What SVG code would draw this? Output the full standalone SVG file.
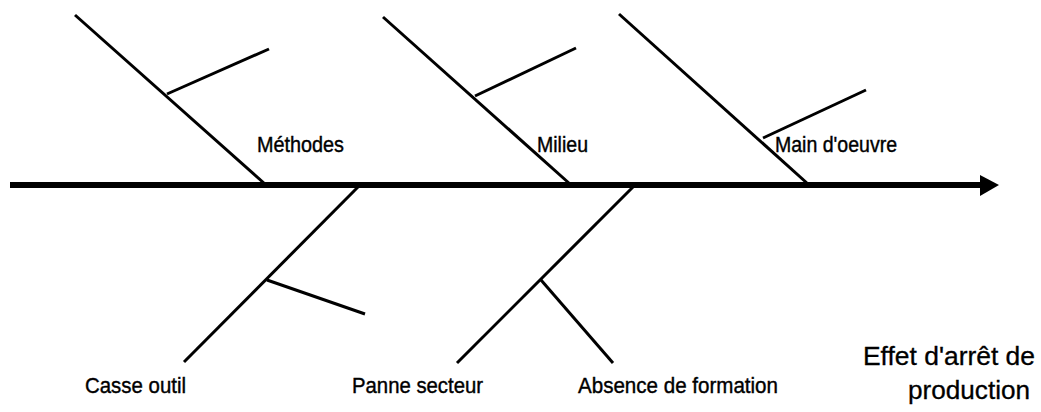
<svg xmlns="http://www.w3.org/2000/svg" width="1041" height="412" viewBox="0 0 1041 412">
<style>
.bone{stroke:#000;stroke-width:3;fill:none}
.spine{stroke:#000;stroke-width:6;fill:none}
.lbl{font-family:"Liberation Sans",Arial,sans-serif;font-size:22px;fill:#000;stroke:#000;stroke-width:0.4}
.eff{font-family:"Liberation Sans",Arial,sans-serif;font-size:25px;fill:#000;stroke:#000;stroke-width:0.3}
</style>
<rect width="1041" height="412" fill="#fff"/>
<g id="connectors">
<line class="spine" x1="10" y1="185" x2="982" y2="185"/>
<polygon points="980,175 999,185 980,196" fill="#000"/>
<line class="bone" x1="75" y1="15" x2="265" y2="184"/>
<line class="bone" x1="167" y1="94" x2="269" y2="49"/>
<line class="bone" x1="383" y1="17" x2="570" y2="184"/>
<line class="bone" x1="475" y1="96" x2="576" y2="48"/>
<line class="bone" x1="619" y1="14" x2="808" y2="184"/>
<line class="bone" x1="763" y1="138" x2="866" y2="90"/>
<line class="bone" x1="358" y1="187" x2="184" y2="362"/>
<line class="bone" x1="267" y1="280" x2="365" y2="314"/>
<line class="bone" x1="633" y1="187" x2="457" y2="363"/>
<line class="bone" x1="541" y1="280" x2="613" y2="363"/>
</g>
<g id="methodes"><text class="lbl" x="257" y="152" textLength="87" lengthAdjust="spacingAndGlyphs">Méthodes</text></g>
<g id="milieu"><text class="lbl" x="537" y="152" textLength="51" lengthAdjust="spacingAndGlyphs">Milieu</text></g>
<g id="main-oeuvre"><text class="lbl" x="775" y="152" textLength="122" lengthAdjust="spacingAndGlyphs">Main d'oeuvre</text></g>
<g id="casse-outil"><text class="lbl" x="85" y="393" textLength="101" lengthAdjust="spacingAndGlyphs">Casse outil</text></g>
<g id="panne-secteur"><text class="lbl" x="352" y="393" textLength="131" lengthAdjust="spacingAndGlyphs">Panne secteur</text></g>
<g id="absence-formation"><text class="lbl" x="578" y="393" textLength="200" lengthAdjust="spacingAndGlyphs">Absence de formation</text></g>
<g id="effet">
<text class="eff" x="863" y="365" textLength="172" lengthAdjust="spacingAndGlyphs">Effet d'arrêt de</text>
<text class="eff" x="908" y="399" textLength="122" lengthAdjust="spacingAndGlyphs">production</text>
</g>
</svg>
